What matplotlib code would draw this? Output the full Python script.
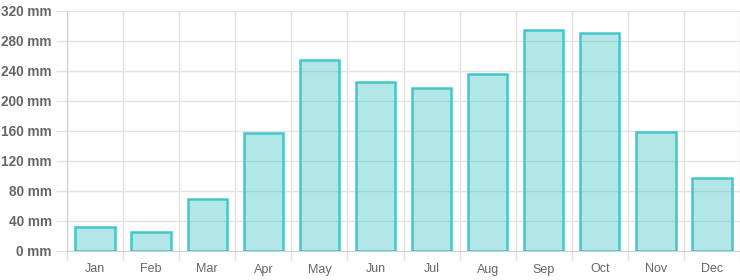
import numpy as np
import matplotlib.pyplot as plt

months = ['Jan', 'Feb', 'Mar', 'Apr', 'May', 'Jun', 'Jul', 'Aug', 'Sep', 'Oct', 'Nov', 'Dec']
rain = [32, 25, 70, 157, 255, 226, 217, 236, 295, 291, 159, 97]
yticks = [0, 40, 80, 120, 160, 200, 240, 280, 320]

plt.rcParams['font.family'] = ['Liberation Sans', 'DejaVu Sans']

fig = plt.figure(figsize=(7.4, 2.8), dpi=100)
ax = fig.add_axes([67 / 740, 1 - 251 / 280, 1 - 67 / 740, 240 / 280])

x = np.arange(len(months))
ax.bar(x, rain, width=0.7, color=(65 / 255, 197 / 255, 197 / 255, 0.4),
       edgecolor='#42c6c8', linewidth=1.8, zorder=3)

ax.set_xlim(-0.5, len(months) - 0.5)
ax.set_ylim(0, 320)
ax.set_yticks(yticks)
ax.set_yticklabels([f'{v} mm' for v in yticks], fontweight='bold', color='#666666', fontsize=9.8)
ax.set_xticks(x)
ax.set_xticklabels(months, color='#666666', fontsize=9)
ax.set_xticks(np.arange(-0.5, len(months), 1), minor=True)

ax.tick_params(axis='x', which='major', length=0, pad=9)
ax.tick_params(axis='x', which='minor', length=7, color='#e3e3e3', width=1)
ax.tick_params(axis='y', length=8, color='#e3e3e3', width=1, pad=3)

ax.grid(axis='y', color='#e3e3e3', linewidth=1, zorder=0)
ax.grid(axis='x', which='minor', color='#e3e3e3', linewidth=1, zorder=0)
ax.set_axisbelow(True)

for s in ['top', 'right']:
    ax.spines[s].set_visible(False)
ax.spines['left'].set_color('#cfcfcf')
ax.spines['bottom'].set_color('#cfcfcf')

fig.savefig('out.png', dpi=100)
